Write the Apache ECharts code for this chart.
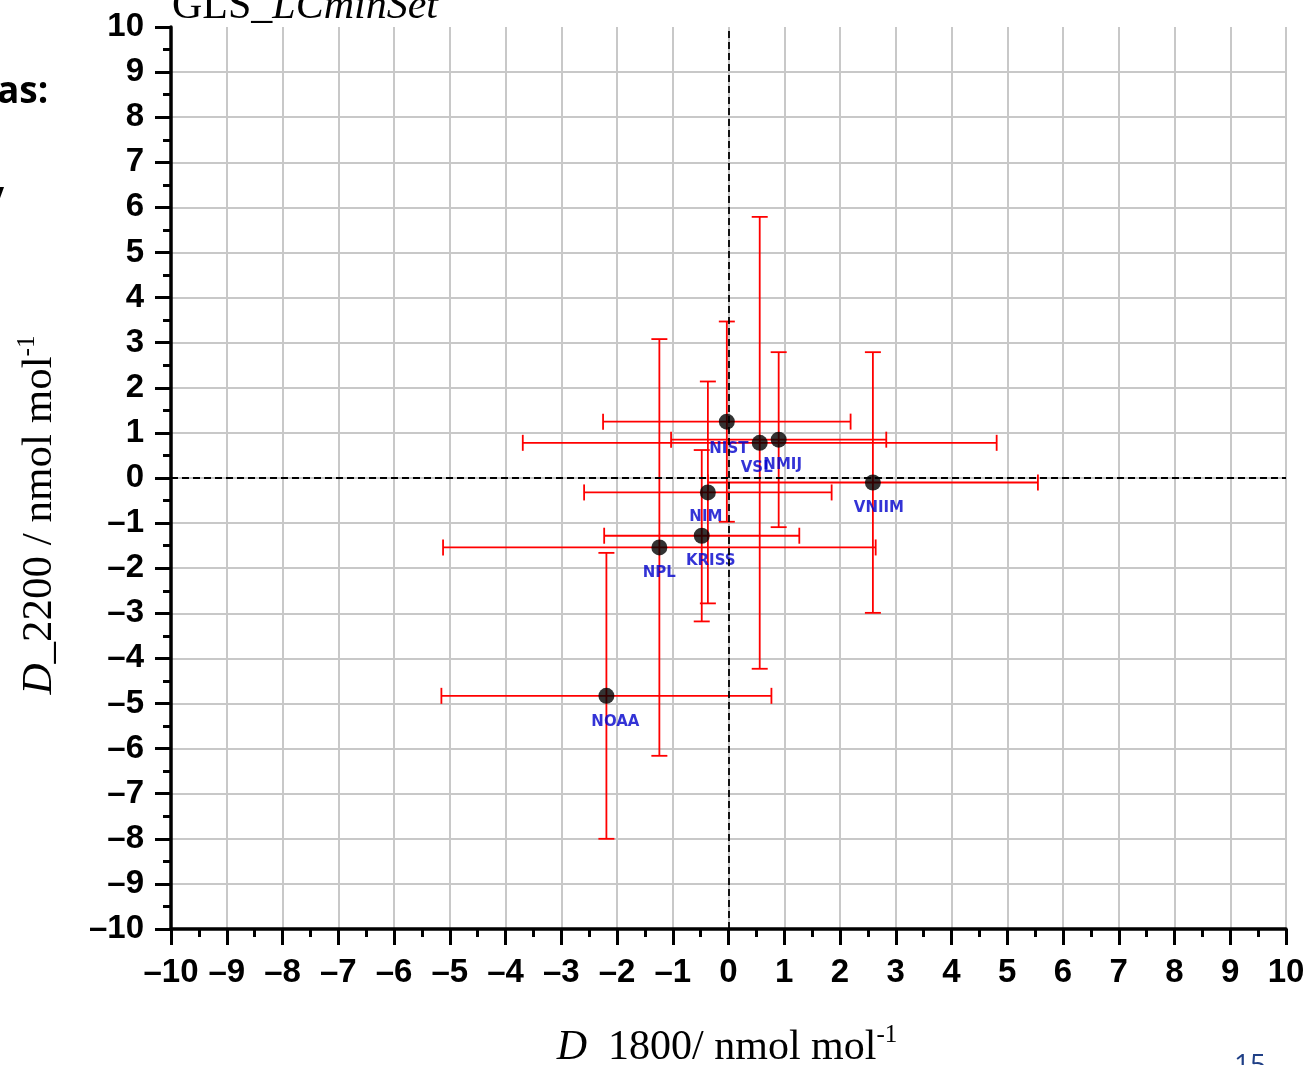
<!DOCTYPE html>
<html>
<head>
<meta charset="utf-8">
<script src="https://cdn.jsdelivr.net/npm/echarts@6/dist/echarts.min.js"></script>
<style>
html,body{margin:0;padding:0;background:#fff;}
#chart{width:1309px;height:1065px;}
</style>
</head>
<body>
<div id="chart"></div>
<script>
// ---- data ----
const labs = ['NIST', 'VSL', 'NMIJ', 'VNIIM', 'NIM', 'KRISS', 'NPL', 'NOAA'];
const d1800 = [-0.03, 0.56, 0.90, 2.59, -0.37, -0.48, -1.24, -2.19];
const d2200 = [1.25, 0.78, 0.85, -0.10, -0.32, -1.28, -1.54, -4.83];
const u1800 = [2.22, 4.25, 1.93, 2.96, 2.22, 1.75, 3.88, 2.96];
const u2200 = [2.22, 5.01, 1.94, 2.89, 2.46, 1.90, 4.62, 3.17];
const axisMin = -10, axisMax = 10, axisStep = 1;

// ---- styles ----
const labelOffsets = [[2, 27], [-3, 25], [4, 25], [6, 26], [-2, 25], [9, 25], [0, 26], [9, 26]];
const serif = '"Liberation Serif", "Times New Roman", serif';
const sans = '"Liberation Sans", Arial, sans-serif';
const fmt = v => String(v).replace('-', '\u2013');

const errData = labs.map((n, i) => [d1800[i], d2200[i], u1800[i], u2200[i]]);
const ptData = labs.map((n, i) => ({
  name: n,
  value: [d1800[i], d2200[i]],
  label: { offset: labelOffsets[i] }
}));

const CAP = 8;
function renderErr(params, api) {
  const x = api.value(0), y = api.value(1), ex = api.value(2), ey = api.value(3);
  const L = api.coord([x - ex, y]), R = api.coord([x + ex, y]);
  const B = api.coord([x, y - ey]), T = api.coord([x, y + ey]);
  const st = { stroke: '#ff0000', lineWidth: 1.8, fill: null };
  const line = (a, b, c, d) => ({ type: 'line', shape: { x1: a, y1: b, x2: c, y2: d }, style: st });
  return {
    type: 'group',
    children: [
      line(L[0], L[1], R[0], R[1]),
      line(B[0], B[1], T[0], T[1]),
      line(L[0], L[1] - CAP, L[0], L[1] + CAP),
      line(R[0], R[1] - CAP, R[0], R[1] + CAP),
      line(T[0] - CAP, T[1], T[0] + CAP, T[1]),
      line(B[0] - CAP, B[1], B[0] + CAP, B[1])
    ]
  };
}

const axisCommon = {
  type: 'value',
  min: axisMin, max: axisMax, interval: axisStep,
  axisLine: { show: true, onZero: false, lineStyle: { color: '#000', width: 3.5 } },
  axisTick: { show: true, inside: false, length: 16, lineStyle: { color: '#000', width: 3 } },
  minorTick: { show: true, splitNumber: 2, length: 8, lineStyle: { color: '#000', width: 3 } },
  splitLine: { show: true, lineStyle: { color: '#c8c8c8', width: 2 } },
  minorSplitLine: { show: false },
  axisLabel: { color: '#000', fontFamily: sans, fontWeight: 'bold', fontSize: 33, formatter: fmt }
};

const chart = echarts.init(document.getElementById('chart'), null, { renderer: 'canvas' });
chart.setOption({
  animation: false,
  backgroundColor: '#fff',
  grid: { left: 171, right: 23, top: 27, bottom: 136, containLabel: false },
  xAxis: Object.assign({}, axisCommon, {
    axisLabel: Object.assign({}, axisCommon.axisLabel, { margin: 27 })
  }),
  yAxis: Object.assign({}, axisCommon, {
    axisLabel: Object.assign({}, axisCommon.axisLabel, { margin: 27 }),
    splitLine: { show: true, showMaxLine: false, lineStyle: { color: '#c8c8c8', width: 2 } }
  }),
  series: [
    {
      type: 'line', data: [], silent: true,
      markLine: {
        silent: true, symbol: 'none', animation: false,
        label: { show: false },
        lineStyle: { color: '#000', type: [7, 4], width: 1.8 },
        data: [{ xAxis: 0 }, { yAxis: 0 }]
      }
    },
    {
      type: 'custom', renderItem: renderErr, data: errData, z: 3, silent: true,
      encode: { x: 0, y: 1 }
    },
    {
      type: 'scatter', data: ptData, symbol: 'circle', symbolSize: 16, z: 4,
      itemStyle: { color: '#000' },
      label: {
        show: true, position: 'inside', formatter: '{b}',
        color: '#0000cc', fontFamily: '"DejaVu Sans", sans-serif', fontWeight: 'bold', fontSize: 15
      }
    }
  ],
  graphic: [
    {
      type: 'text', x: 172, y: 7,
      style: {
        text: '{n|GLS_}{i|LCminSet}',
        verticalAlign: 'middle', align: 'left',
        rich: {
          n: { fontFamily: serif, fontSize: 42, fill: '#000' },
          i: { fontFamily: serif, fontSize: 42, fontStyle: 'italic', fill: '#000' }
        }
      }
    },
    {
      type: 'text', x: 40, y: 515, rotation: Math.PI / 2,
      style: {
        text: '{i|D}{n|_2200 / nmol mol}{s|-1}',
        align: 'center', verticalAlign: 'middle',
        rich: {
          i: { fontFamily: serif, fontSize: 43, fontStyle: 'italic', fill: '#000', lineHeight: 50 },
          n: { fontFamily: serif, fontSize: 43, fill: '#000', lineHeight: 50 },
          s: { fontFamily: serif, fontSize: 25, fill: '#000', verticalAlign: 'top', lineHeight: 50 }
        }
      }
    },
    {
      type: 'text', x: 727, y: 1048,
      style: {
        text: '{i|D}{n|  1800/ nmol mol}{s|-1}',
        align: 'center', verticalAlign: 'middle',
        rich: {
          i: { fontFamily: serif, fontSize: 42, fontStyle: 'italic', fill: '#000', lineHeight: 50 },
          n: { fontFamily: serif, fontSize: 42, fill: '#000', lineHeight: 50 },
          s: { fontFamily: serif, fontSize: 25, fill: '#000', verticalAlign: 'top', lineHeight: 50 }
        }
      }
    },
    {
      type: 'text', x: -3, y: 92,
      style: { text: 'as:', font: 'bold 37px "Open Sans", "Noto Sans", sans-serif', fill: '#000', verticalAlign: 'middle' }
    },
    {
      type: 'text', x: -17, y: 197,
      style: { text: 'y', font: 'bold 37px "Open Sans", "Noto Sans", sans-serif', fill: '#000', verticalAlign: 'middle' }
    },
    {
      type: 'text', x: 1234, y: 1052,
      style: { text: '15', font: '28px "Open Sans", "Noto Sans", sans-serif', fill: '#1f3f86', verticalAlign: 'top' }
    }
  ]
});
</script>
</body>
</html>
